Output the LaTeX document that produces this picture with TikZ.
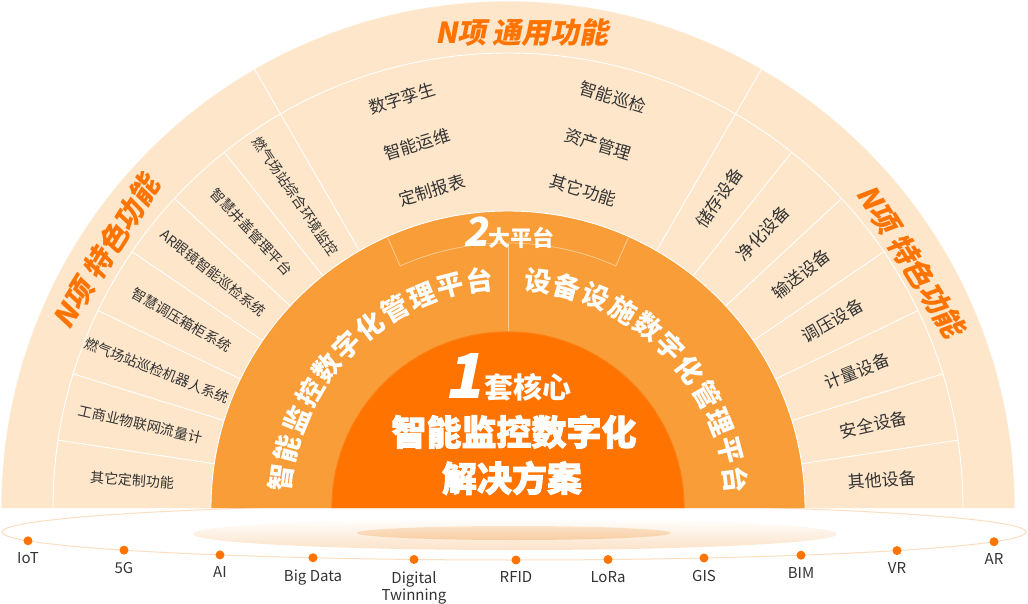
\documentclass[tikz,border=0pt]{standalone}
\usepackage{fontspec}
\usepackage{xcolor}
\usepackage{tikz}
\usetikzlibrary{positioning,calc}
\setmainfont{Noto Sans CJK SC}
\newfontfamily\slantfont[FakeSlant=0.2]{Noto Sans CJK SC}
\newfontfamily\heavyfont[FakeBold=2.5]{Noto Sans CJK SC}
\definecolor{ringPeach}{HTML}{FDE6CA}
\definecolor{ringMid}{HTML}{F89D38}
\definecolor{ringCore}{HTML}{FF7300}
\definecolor{titleOrange}{HTML}{FF7300}
\definecolor{itemGray}{HTML}{333333}
\definecolor{tabLine}{HTML}{FCCB94}
\definecolor{orbitLine}{HTML}{FBDDC0}
\definecolor{glowOuter}{HTML}{FBE2C8}
\definecolor{glowInner}{HTML}{F8CDA2}
\tikzset{
  item/.style={font=\fontsize{14}{14}\selectfont,text=itemGray,inner sep=0pt},
  bigitem/.style={font=\fontsize{17}{17}\selectfont,text=itemGray,inner sep=0pt},
  title/.style={font=\slantfont\bfseries\fontsize{29}{29}\selectfont,text=titleOrange,inner sep=0pt},
  platchar/.style={font=\bfseries\fontsize{27}{27}\selectfont,text=white,inner sep=0pt},
  sepline/.style={draw=white,line width=0.9pt},
  tabedge/.style={draw=tabLine,line width=0.8pt},
  tech/.style={circle,fill=ringCore,minimum size=9pt,inner sep=0pt},
  techlabel/.style={font=\fontsize{15}{17}\selectfont,text=itemGray,align=center,inner sep=0pt}
}

\begin{document}
\begin{tikzpicture}[x=1pt,y=1pt]
  \useasboundingbox (-508,-95) rectangle (520,508);

  % orbit with the technologies
  \draw[orbitLine, line width=1pt] (6,-24) ellipse [x radius=512, y radius=28];
  \shade[top color=white, bottom color=glowOuter] (7,-26) ellipse [x radius=322, y radius=16];
  \shade[top color=glowOuter, bottom color=glowInner] (6,-25) ellipse [x radius=157, y radius=7];
  \foreach \px/\txt [count=\i] in {-480/IoT, -384/5G, -288/AI, -195/Big Data, -94/Digital\\Twinning,
      8/RFID, 100/LoRa, 196/GIS, 293/BIM, 389/VR, 486/AR} {
    \pgfmathsetmacro{\py}{-24-28*sqrt(1-((\px-6)/512)^2)}
    \node[tech] (t\i) at (\px,\py) {};
    \node[techlabel, below=7pt of t\i] (tl\i) {\txt};
  }

  % outer band
  \fill[ringPeach] (-507,0) arc (180:0:507) -- cycle;
  \draw[white, line width=1.2pt, opacity=0.7] (180:507) arc (180:0:507);
  \draw[sepline] (180:455) arc (180:0:455);
  \draw[sepline] (120:297) -- (120:507);
  \draw[sepline] (60:297) -- (60:507);
  \foreach \k in {1,...,6} {
    \draw[sepline] ({120+60*\k/7}:297) -- ({120+60*\k/7}:455);
    \draw[sepline] ({60*\k/7}:297) -- ({60*\k/7}:455);
  }

  \node[title] (general) at (14,475) {N项 通用功能};
  \node[title, rotate=58] (specialL) at (147.5:477) {N项 特色功能};
  \node[title, rotate=-58] (specialR) at (31.5:473) {N项 特色功能};

  \node[bigitem, rotate=17] (twin) at (-106,410) {数字孪生};
  \node[bigitem, rotate=17] (maint) at (-91,364) {智能运维};
  \node[bigitem, rotate=17] (report) at (-76,318) {定制报表};
  \node[bigitem, rotate=-17] (patrol) at (105,411) {智能巡检};
  \node[bigitem, rotate=-17] (asset) at (90,364) {资产管理};
  \node[bigitem, rotate=-17] (other) at (75,318) {其它功能};

  \foreach \txt [count=\k from 0] in {燃气场站综合环境监控, 智慧井盖管理平台, AR眼镜智能巡检系统,
      智慧调压箱柜系统, 燃气场站巡检机器人系统, 工商业物联网流量计, 其它定制功能} {
    \pgfmathsetmacro{\ang}{120+60*(\k+0.5)/7}
    \node[item, rotate=\ang-180] (left\k) at (\ang:377) {\txt};
  }
  \foreach \txt [count=\k from 0] in {储存设备, 净化设备, 输送设备, 调压设备, 计量设备, 安全设备, 其他设备} {
    \pgfmathsetmacro{\ang}{60-60*(\k+0.5)/7}
    \node[bigitem, rotate=\ang] (right\k) at (\ang:375) {\txt};
  }

  % platforms
  \fill[ringMid] (-297,0) arc (180:0:297) -- cycle;
  \draw[sepline] (180:297) arc (180:0:297);
  \draw[tabedge] (114:296) -- (114:265) arc (114:66:265) -- (66:296);
  \draw[tabedge] (90:265) -- (90:176);
  \node[anchor=base, inner sep=0pt, text=white] (two) at (1,261)
    {{\slantfont\bfseries\fontsize{40}{40}\selectfont 2}{\bfseries\fontsize{22}{22}\selectfont 大平台}};

  \foreach \ch [count=\k from 0] in {智,能,监,控,数,字,化,管,理,平,台} {
    \pgfmathsetmacro{\ang}{172.5-7.55*\k}
    \node[platchar, rotate=\ang-90] (pa\k) at (\ang:229) {\ch};
  }
  \foreach \ch [count=\k from 0] in {设,备,设,施,数,字,化,管,理,平,台} {
    \pgfmathsetmacro{\ang}{82.5-7.55*\k}
    \node[platchar, rotate=\ang-90] (pb\k) at (\ang:229) {\ch};
  }

  % core
  \fill[ringCore] (-176,0) arc (180:0:176) -- cycle;
  \draw[ringCore!75!ringMid, line width=1.2pt] (180:176) arc (180:0:176);
  \node[anchor=base, inner sep=0pt, text=white] (core) at (0,110)
    {{\slantfont\bfseries\fontsize{62}{62}\selectfont 1}\,{\bfseries\fontsize{29}{29}\selectfont 套核心}};
  \node[inner sep=0pt, text=white, font=\heavyfont\bfseries\fontsize{35}{35}\selectfont] (solA) at (6,76) {智能监控数字化};
  \node[inner sep=0pt, text=white, font=\heavyfont\bfseries\fontsize{35}{35}\selectfont] (solB) at (4,30) {解决方案};
\end{tikzpicture}
\end{document}
